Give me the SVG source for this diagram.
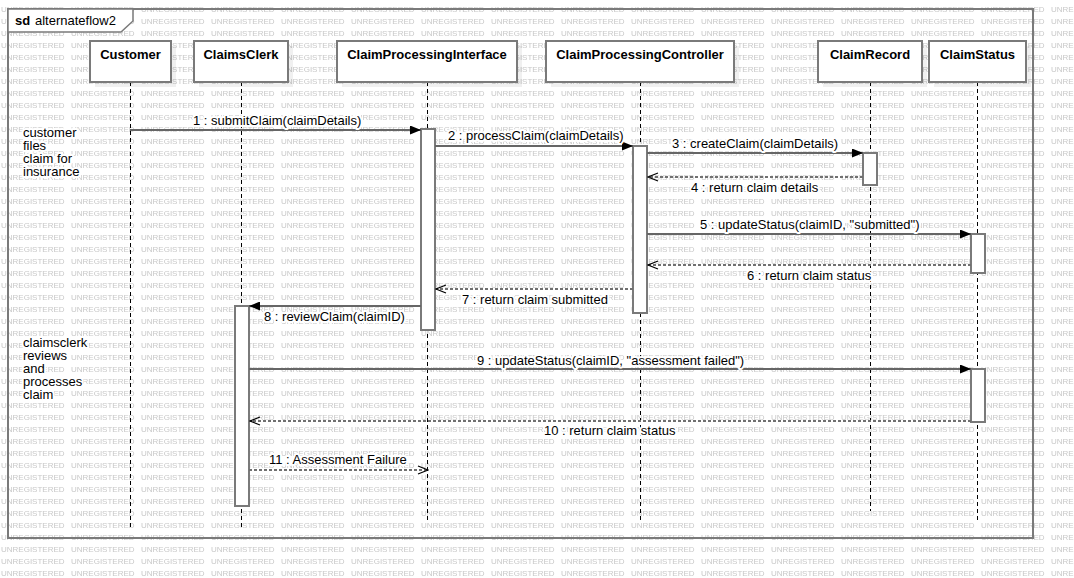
<svg xmlns="http://www.w3.org/2000/svg" width="1074" height="578" viewBox="0 0 1074 578">
<style>
text { font-family: "Liberation Sans", Arial, sans-serif; font-size: 13px; fill: #000; }
text.wm { font-size: 8px; fill: #c8c8c8; }
.title { font-weight: bold; text-anchor: middle; }
.box { fill: #fff; stroke: #7a7a7a; stroke-width: 2; }
.shadow { fill: #000; opacity: 0.06; }
.life { stroke: #000; stroke-width: 1; stroke-dasharray: 4 3; fill: none; }
.act { fill: #fff; stroke: #7a7a7a; stroke-width: 2; }
.call { stroke: #666; stroke-width: 2; fill: none; marker-end: url(#filled); }
.ret { stroke: #707070; stroke-width: 2; stroke-dasharray: 3 2; fill: none; marker-end: url(#open); }
.lbl, .note { paint-order: stroke; stroke: #fff; stroke-width: 4px; stroke-linejoin: round; }
.frame { fill: none; stroke: #7a7a7a; stroke-width: 2; }
</style>
<defs>
<pattern id="wm" x="0" y="0" width="70" height="12" patternUnits="userSpaceOnUse">
<text class="wm" x="1" y="11.5">UNREGISTERED</text>
</pattern>
<marker id="filled" viewBox="0 0 11 9" refX="11" refY="4.5" markerWidth="11" markerHeight="9" orient="auto" markerUnits="userSpaceOnUse">
<path d="M0,0 L11,4.5 L0,9 z" fill="#000"/>
</marker>
<marker id="open" viewBox="0 0 12 10" refX="11" refY="5" markerWidth="12" markerHeight="10" orient="auto" markerUnits="userSpaceOnUse">
<path d="M1,1 L11,5 L1,9" fill="none" stroke="#000" stroke-width="1.2"/>
</marker>
</defs>
<rect x="0" y="0" width="1074" height="578" fill="#fff"/>
<rect x="0" y="0" width="1074" height="578" fill="url(#wm)"/>

<g id="frame">
<rect class="frame" x="8" y="9" width="1025" height="529"/>
<path d="M8,9 H133 V21 L121,32 H8 Z" fill="#fff" stroke="#7a7a7a" stroke-width="1.5"/>
<text x="15" y="25" font-weight="bold">sd</text>
<text x="35" y="25">alternateflow2</text>
</g>

<g id="lifelines">
<line class="life" x1="130.5" y1="82" x2="130.5" y2="529"/>
<line class="life" x1="241.5" y1="82" x2="241.5" y2="529"/>
<line class="life" x1="427.5" y1="82" x2="427.5" y2="521"/>
<line class="life" x1="640.5" y1="82" x2="640.5" y2="521"/>
<line class="life" x1="870.5" y1="82" x2="870.5" y2="511"/>
<line class="life" x1="977.5" y1="82" x2="977.5" y2="521"/>
</g>

<g id="Customer">
<rect class="shadow" x="95" y="46" width="81" height="41"/>
<rect class="box" x="90" y="41" width="81" height="41"/>
<text class="title" x="130.5" y="59">Customer</text>
</g>
<g id="ClaimsClerk">
<rect class="shadow" x="199" y="46" width="94" height="41"/>
<rect class="box" x="194" y="41" width="94" height="41"/>
<text class="title" x="241" y="59">ClaimsClerk</text>
</g>
<g id="ClaimProcessingInterface">
<rect class="shadow" x="342" y="46" width="180" height="41"/>
<rect class="box" x="337" y="41" width="180" height="41"/>
<text class="title" x="427" y="59">ClaimProcessingInterface</text>
</g>
<g id="ClaimProcessingController">
<rect class="shadow" x="551" y="46" width="188" height="41"/>
<rect class="box" x="546" y="41" width="188" height="41"/>
<text class="title" x="640" y="59">ClaimProcessingController</text>
</g>
<g id="ClaimRecord">
<rect class="shadow" x="823" y="46" width="104" height="41"/>
<rect class="box" x="818" y="41" width="104" height="41"/>
<text class="title" x="870" y="59">ClaimRecord</text>
</g>
<g id="ClaimStatus">
<rect class="shadow" x="934" y="46" width="97" height="41"/>
<rect class="box" x="929" y="41" width="97" height="41"/>
<text class="title" x="977.5" y="59">ClaimStatus</text>
</g>

<g id="activations">
<rect class="act" x="421" y="129" width="14" height="201"/>
<rect class="act" x="633" y="146" width="14" height="167"/>
<rect class="act" x="863" y="153" width="14" height="32"/>
<rect class="act" x="971" y="234" width="14" height="39"/>
<rect class="act" x="235" y="306" width="14" height="200"/>
<rect class="act" x="971" y="369" width="14" height="53"/>
</g>

<g id="notes">
<text class="note" x="23" y="137">customer</text>
<text class="note" x="23" y="150">files</text>
<text class="note" x="23" y="163">claim for</text>
<text class="note" x="23" y="176">insurance</text>
<text class="note" x="23" y="347">claimsclerk</text>
<text class="note" x="23" y="360">reviews</text>
<text class="note" x="23" y="373">and</text>
<text class="note" x="23" y="386">processes</text>
<text class="note" x="23" y="399">claim</text>
</g>

<g id="connectors">
<path class="call" d="M130,130 H421"/>
<text class="lbl" x="193" y="124.5">1 : submitClaim(claimDetails)</text>
<path class="call" d="M435,146 H633"/>
<text class="lbl" x="448" y="139.5">2 : processClaim(claimDetails)</text>
<path class="call" d="M647,153 H863"/>
<text class="lbl" x="672" y="148">3 : createClaim(claimDetails)</text>
<path class="ret" d="M863,177 H648"/>
<text class="lbl" x="691" y="192">4 : return claim details</text>
<path class="call" d="M647,234 H971"/>
<text class="lbl" x="700" y="228.5">5 : updateStatus(claimID, "submitted")</text>
<path class="ret" d="M971,265 H648"/>
<text class="lbl" x="747" y="279.5">6 : return claim status</text>
<path class="ret" d="M633,289 H436"/>
<text class="lbl" x="462" y="304">7 : return claim submitted</text>
<path class="call" d="M421,306 H249"/>
<text class="lbl" x="264" y="320.5">8 : reviewClaim(claimID)</text>
<path class="call" d="M249,369 H971"/>
<text class="lbl" x="477" y="364.5">9 : updateStatus(claimID, "assessment failed")</text>
<path class="ret" d="M971,421 H250"/>
<text class="lbl" x="544" y="435">10 : return claim status</text>
<path class="ret" d="M249,470 H428"/>
<text class="lbl" x="269" y="463.5">11 : Assessment Failure</text>
</g>
</svg>
